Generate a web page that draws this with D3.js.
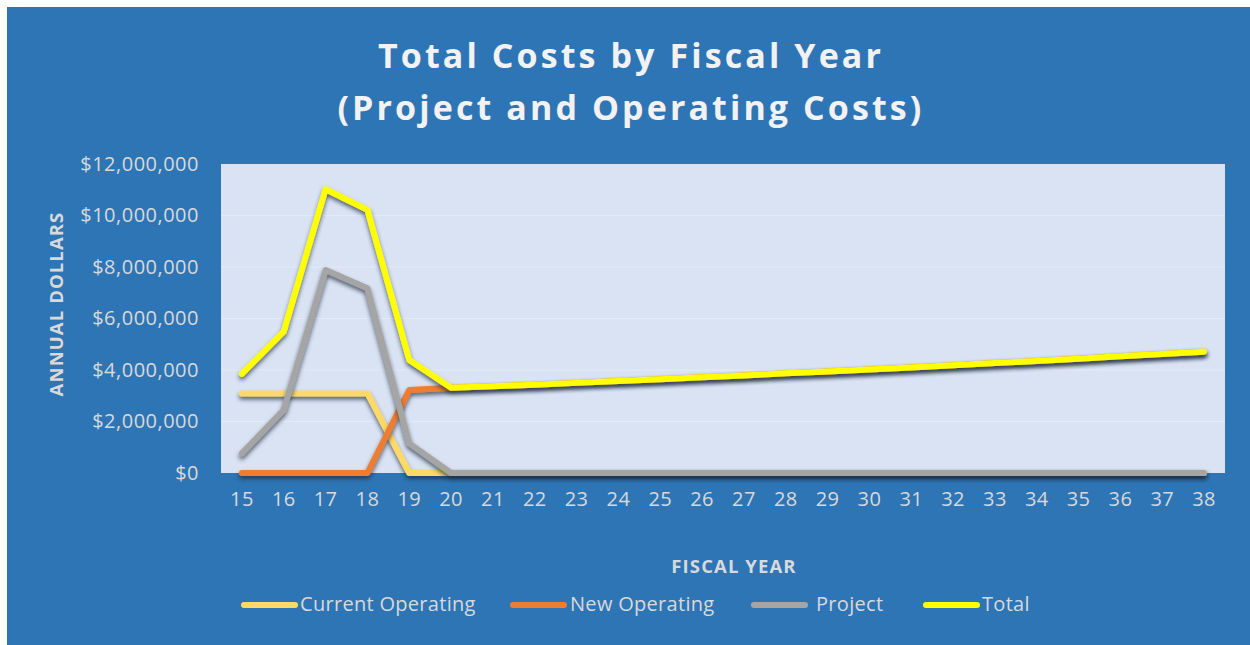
<!DOCTYPE html>
<html>
<head>
<meta charset="utf-8">
<script src="https://cdn.jsdelivr.net/npm/d3@7"></script>
<style>
  html, body { margin: 0; padding: 0; background: #ffffff; }
  svg { display: block; }
  text { font-family: "Open Sans", Lato, sans-serif; }
</style>
</head>
<body>
<div id="chart"></div>
<script>
// fiscal years on the x axis
var years = ["15","16","17","18","19","20","21","22","23","24","25","26","27","28","29","30","31","32","33","34","35","36","37","38"];

// annual dollars
var currentOperating = [3090000,3090000,3090000,3090000,0,0,0,0,0,0,0,0,0,0,0,0,0,0,0,0,0,0,0,0];
var newOperating     = [0,0,0,0,3220000,3310000,3370000,3430000,3500000,3570000,3640000,3720000,3790000,3870000,3940000,4020000,4100000,4180000,4270000,4350000,4440000,4530000,4620000,4710000];
var project          = [760000,2450000,7880000,7170000,1150000,0,0,0,0,0,0,0,0,0,0,0,0,0,0,0,0,0,0,0];
var total            = [3850000,5490000,11020000,10220000,4390000,3310000,3370000,3430000,3500000,3570000,3640000,3720000,3790000,3870000,3940000,4020000,4100000,4180000,4270000,4350000,4440000,4530000,4620000,4710000];

var yTicks = [0,2000000,4000000,6000000,8000000,10000000,12000000];

var seriesNames  = ["Current Operating","New Operating","Project","Total"];
var seriesColors = ["#ffd966","#ed7d31","#a5a5a5","#ffff00"];
var seriesValues = [currentOperating, newOperating, project, total];

function main() {
  "use strict";
  var W = 1250, H = 645;
  var margin = {top: 164, right: 25, bottom: 172, left: 221},
      width = W - margin.left - margin.right,
      height = H - margin.top - margin.bottom;

  var svg = d3.select("#chart").append("svg")
      .attr("width", W)
      .attr("height", H);

  // drop shadow like the office chart
  var defs = svg.append("defs");
  var f = defs.append("filter").attr("id", "shadow")
      .attr("x", "-10%").attr("y", "-10%").attr("width", "120%").attr("height", "130%");
  f.append("feDropShadow")
      .attr("dx", 0).attr("dy", 3).attr("stdDeviation", 2.2)
      .attr("flood-color", "#1f2a3a").attr("flood-opacity", 0.7);

  // outer blue area
  svg.append("rect")
      .attr("x", 7).attr("y", 7)
      .attr("width", W - 7).attr("height", H - 7)
      .attr("fill", "#2e75b6");

  // title
  var title = svg.append("text")
      .attr("text-anchor", "middle")
      .attr("fill", "#f2f2f2")
      .style("font-size", "34px").style("font-weight", "bold")
      .style("letter-spacing", "3.1px");
  title.append("tspan").attr("x", 631).attr("y", 68).text("Total Costs by Fiscal Year");
  title.append("tspan").attr("x", 631).attr("y", 120).text("(Project and Operating Costs)");

  var g = svg.append("g")
      .attr("transform", "translate(" + margin.left + "," + margin.top + ")");

  // plot area
  g.append("rect")
      .attr("width", width).attr("height", height)
      .attr("fill", "#dae3f3");

  var x = d3.scaleBand()
      .domain(years)
      .range([0, width]);

  var y = d3.scaleLinear()
      .domain([0, 12000000])
      .range([height, 0]);

  // faint gridlines
  g.append("g")
    .selectAll("line")
    .data(yTicks.slice(1, -1))
    .enter().append("line")
      .attr("x1", 0).attr("x2", width)
      .attr("y1", function(d) { return y(d); })
      .attr("y2", function(d) { return y(d); })
      .attr("stroke", "#e4eaf6")
      .attr("stroke-width", 1);

  // Y axis
  var yAxis = g.append("g")
      .call(d3.axisLeft(y).tickValues(yTicks).tickSize(0).tickPadding(22)
        .tickFormat(function(d) { return "$" + d3.format(",")(d); }));
  yAxis.select(".domain").remove();
  yAxis.selectAll("text")
      .attr("fill", "#d9d9d9")
      .style("font-size", "20px")
      .style("letter-spacing", "0.5px");

  // X axis
  var xAxis = g.append("g")
      .attr("transform", "translate(0," + height + ")")
      .call(d3.axisBottom(x).tickSize(0).tickPadding(19));
  xAxis.select(".domain").remove();
  xAxis.selectAll("text")
      .attr("fill", "#d9d9d9")
      .style("font-size", "20px")
      .style("letter-spacing", "0.4px");

  // axis titles
  svg.append("text")
      .attr("transform", "translate(63,304) rotate(-90)")
      .attr("text-anchor", "middle")
      .attr("fill", "#d9d9d9")
      .style("font-size", "18.5px").style("font-weight", "bold")
      .style("letter-spacing", "1.1px")
      .text("ANNUAL DOLLARS");

  svg.append("text")
      .attr("x", 734).attr("y", 573)
      .attr("text-anchor", "middle")
      .attr("fill", "#d9d9d9")
      .style("font-size", "18.5px").style("font-weight", "bold")
      .style("letter-spacing", "1.1px")
      .text("FISCAL YEAR");

  // lines
  var line = d3.line()
      .x(function(d, i) { return x(years[i]) + x.bandwidth() / 2; })
      .y(function(d) { return y(d); });

  g.append("g")
    .selectAll("path")
    .data(seriesValues)
    .enter().append("path")
      .attr("d", function(d) { return line(d); })
      .attr("fill", "none")
      .attr("stroke", function(d, i) { return seriesColors[i]; })
      .attr("stroke-width", 6)
      .attr("stroke-linecap", "round")
      .attr("stroke-linejoin", "round")
      .attr("filter", "url(#shadow)");

  // legend
  var legendX = [241, 510, 751, 923];
  var legendTextX = [300, 570, 816, 982];
  var legend = svg.append("g")
    .selectAll("g")
    .data(seriesNames)
    .enter().append("g");
  legend.append("line")
      .attr("x1", function(d, i) { return legendX[i] + 3; })
      .attr("x2", function(d, i) { return legendX[i] + 54; })
      .attr("y1", 605).attr("y2", 605)
      .attr("stroke", function(d, i) { return seriesColors[i]; })
      .attr("stroke-width", 6)
      .attr("stroke-linecap", "round");
  legend.append("text")
      .attr("x", function(d, i) { return legendTextX[i]; })
      .attr("y", 611)
      .attr("fill", "#d9d9d9")
      .style("font-size", "20px")
      .style("letter-spacing", "0.3px")
      .text(function(d) { return d; });
}
main();
</script>
</body>
</html>
